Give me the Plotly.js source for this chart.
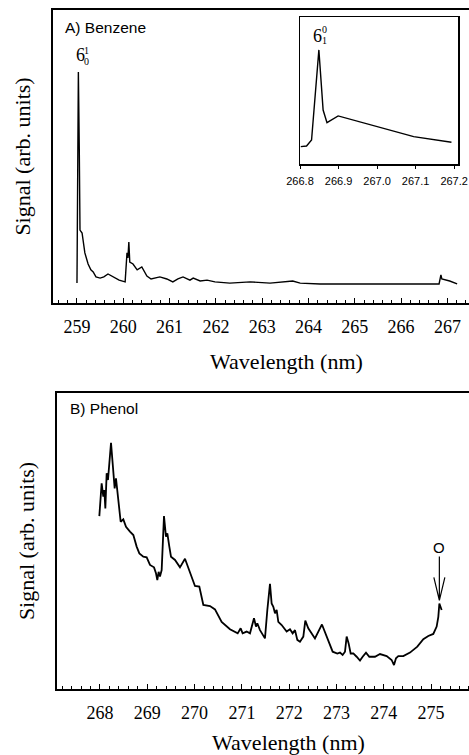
<!DOCTYPE html>
<html><head><meta charset="utf-8">
<script src="https://cdn.plot.ly/plotly-3.0.1.min.js"></script>
<style>html,body{margin:0;padding:0;overflow:hidden;background:#fff;width:469px;height:755px}#chart{width:520px;height:755px}</style>
</head><body><div id="chart"></div><script>
// Panel A: benzene
const benzeneWavelength = [259.00,259.03,259.05,259.065,259.11,259.17,259.24,259.30,259.35,259.41,259.50,259.58,259.67,259.78,259.91,260.04,260.08,260.10,260.12,260.14,260.21,260.30,260.40,260.51,260.60,260.79,260.94,261.07,261.18,261.29,261.44,261.51,261.66,261.81,261.98,262.30,262.74,263.17,263.49,263.66,263.82,264.25,265.11,265.98,266.82,266.86,266.88,267.05,267.21];
const benzeneSignal = [6.8,78.8,52,24.9,23.9,17.1,13.3,11.3,10.6,8.9,8.5,8.9,9.9,8.9,7.8,7.2,17.1,15.4,20.8,14.0,13.3,11.3,12.3,9.2,8.2,8.9,8.2,7.2,8.2,8.9,7.8,8.5,7.5,7.8,7.2,6.8,7.2,6.8,7.2,7.5,6.8,6.5,6.5,6.5,6.5,9.6,8.2,7.5,6.5];
// Inset of panel A
const insetWavelength = [266.802,266.817,266.830,266.849,266.860,266.870,266.899,266.997,267.095,267.193];
const insetSignal = [11.8,12.2,16.3,77.6,36.7,28.1,32.7,25.9,18.6,14.8];
// Panel B: phenol
const phenolWavelength = [267.986,268.035,268.070,268.092,268.113,268.141,268.169,268.197,268.233,268.268,268.310,268.338,268.366,268.409,268.437,268.493,268.550,268.634,268.705,268.775,268.832,268.916,268.987,269.057,269.142,269.184,269.212,269.240,269.268,269.304,269.353,269.395,269.424,269.466,269.501,269.586,269.691,269.797,269.903,270.008,270.100,270.185,270.326,270.431,270.572,270.748,270.911,270.974,271.016,271.101,271.171,271.221,271.256,271.298,271.326,271.383,271.488,271.538,271.594,271.629,271.665,271.700,271.735,271.770,271.841,271.946,272.017,272.073,272.123,272.172,272.228,272.299,272.341,272.404,272.545,272.693,272.792,272.919,273.018,273.074,273.130,273.180,273.215,273.257,273.300,273.356,273.426,273.497,273.553,273.624,273.694,273.814,273.920,274.061,274.166,274.216,274.258,274.307,274.413,274.554,274.709,274.836,274.941,275.047,275.118,275.153,275.175,275.203,275.224];
const phenolSignal = [58.4,69.5,65.0,67.2,61.0,72.9,70.6,77.4,83.2,76.2,67.8,71.2,67.2,61.6,56.5,57.3,54.8,53.2,52.0,48.1,45.8,44.7,44.5,41.9,41.1,39.1,36.8,39.6,38.0,40.2,58.4,51.5,52.6,48.1,44.7,43.6,41.1,44.0,39.1,34.8,34.6,28.4,28.0,26.9,22.7,20.2,18.8,20.5,18.8,19.4,18.8,21.6,23.9,21.1,22.2,19.9,17.1,26.7,35.5,28.9,27.8,25.6,26.7,22.7,21.6,19.4,20.2,18.8,19.9,16.6,16.0,17.7,23.1,20.5,17.1,21.8,17.7,12.6,12.0,12.3,11.5,12.6,17.7,15.4,12.0,12.0,10.9,9.6,10.9,12.3,10.9,10.9,11.8,11.1,9.8,8.1,10.4,11.1,11.1,12.3,14.3,16.8,17.9,18.6,21.1,24.4,28.9,27.3,26.7];
// Tick labels
const benzeneTicks = [259,260,261,262,263,264,265,266,267];
const phenolTicks = [268,269,270,271,272,273,274,275];
const insetTicks = [266.8,266.9,267.0,267.1,267.2];
const panelLabels = ['A) Benzene','B) Phenol'];
const axisTitleX = 'Wavelength (nm)';
const axisTitleY = 'Signal (arb. units)';

const W = 520, H = 755;
const serif = 'Liberation Serif, Times New Roman, serif';
const sans = 'Liberation Sans, Arial, sans-serif';

function peakIndex(arr, from) { let m = from || 0; for (let i = m; i < arr.length; i++) if (arr[i] > arr[m]) m = i; return m; }
const iA = peakIndex(benzeneSignal);
const iIn = peakIndex(insetSignal);
const iO = peakIndex(phenolSignal, phenolSignal.length - 6);

const traces = [
  {x: benzeneWavelength, y: benzeneSignal, xaxis: 'x', yaxis: 'y', mode: 'lines', line: {color: '#000', width: 1.4}, hoverinfo: 'skip'},
  {x: insetWavelength, y: insetSignal, xaxis: 'x3', yaxis: 'y3', mode: 'lines', line: {color: '#000', width: 1.4}, hoverinfo: 'skip'},
  {x: phenolWavelength, y: phenolSignal, xaxis: 'x2', yaxis: 'y2', mode: 'lines', line: {color: '#000', width: 1.8}, hoverinfo: 'skip'}
];

function mainX(domain, range, ticks, anchor, standoff) {
  return {domain: domain, range: range, anchor: anchor, showline: true, linewidth: 2.3, linecolor: '#000', mirror: true,
    ticks: 'inside', ticklen: 5, tickwidth: 1, tickcolor: '#000', tickmode: 'array', tickvals: ticks,
    minor: {tick0: ticks[0], dtick: 0.2, ticks: 'inside', ticklen: 3, tickwidth: 1, tickcolor: '#000'},
    tickfont: {family: serif, size: 18, color: '#000'}, ticklabelstandoff: 6,
    showgrid: false, zeroline: false, automargin: false,
    title: {text: axisTitleX, font: {family: serif, size: 22, color: '#000'}, standoff: standoff}};
}
function mainY(domain, anchor) {
  return {domain: domain, range: [0, 100], anchor: anchor, showline: true, linewidth: 2.3, linecolor: '#000', mirror: true,
    ticks: '', showticklabels: false, showgrid: false, zeroline: false, automargin: false,
    title: {text: axisTitleY, font: {family: serif, size: 22, color: '#000'}, standoff: 14}};
}

const layout = {
  width: W, height: H, margin: {l: 0, r: 0, t: 0, b: 0},
  paper_bgcolor: '#fff', plot_bgcolor: '#fff', showlegend: false,
  xaxis: mainX([53 / W, 1], [258.482, 268.568], benzeneTicks, 'y', 18),
  yaxis: mainY([452 / H, 745 / H], 'x'),
  xaxis2: mainX([57 / W, 1], [267.091, 276.88], phenolTicks, 'y2', 15),
  yaxis2: mainY([66 / H, 362 / H], 'x2'),
  xaxis3: {domain: [300 / W, 458 / W], range: [266.8, 267.21], anchor: 'y3', showline: true, linewidth: 1.5, linecolor: '#000', mirror: true,
    ticks: 'outside', ticklen: 3, tickwidth: 1, tickcolor: '#000', tickmode: 'array', tickvals: insetTicks, tickformat: '.1f',
    tickfont: {family: sans, size: 11, color: '#000'}, ticklabelstandoff: 3, showgrid: false, zeroline: false},
  yaxis3: {domain: [591 / H, 738 / H], range: [0, 100], anchor: 'x3', showline: true, linewidth: 1.5, linecolor: '#000', mirror: true,
    ticks: '', showticklabels: false, showgrid: false, zeroline: false},
  annotations: [
    {text: panelLabels[0], xref: 'paper', yref: 'paper', x: 63 / W, y: 1 - 28 / H, xanchor: 'left', yanchor: 'middle', showarrow: false, font: {family: sans, size: 15.5, color: '#000'}},
    {text: panelLabels[1], xref: 'paper', yref: 'paper', x: 68 / W, y: 1 - 408 / H, xanchor: 'left', yanchor: 'middle', showarrow: false, font: {family: sans, size: 15.5, color: '#000'}},
    // 6_0^1 label on main peak
    {text: '6', xref: 'x', yref: 'y', x: benzeneWavelength[iA], y: benzeneSignal[iA], xshift: 2, yshift: 17, showarrow: false, font: {family: serif, size: 18, color: '#000'}},
    {text: '1', xref: 'x', yref: 'y', x: benzeneWavelength[iA], y: benzeneSignal[iA], xshift: 8.5, yshift: 22, showarrow: false, font: {family: serif, size: 10, color: '#000'}},
    {text: '0', xref: 'x', yref: 'y', x: benzeneWavelength[iA], y: benzeneSignal[iA], xshift: 8.5, yshift: 11, showarrow: false, font: {family: serif, size: 10, color: '#000'}},
    // 6_1^0 label on inset peak
    {text: '6', xref: 'x3', yref: 'y3', x: insetWavelength[iIn], y: insetSignal[iIn], xshift: -1, yshift: 14, showarrow: false, font: {family: serif, size: 18, color: '#000'}},
    {text: '0', xref: 'x3', yref: 'y3', x: insetWavelength[iIn], y: insetSignal[iIn], xshift: 5.5, yshift: 20, showarrow: false, font: {family: serif, size: 10, color: '#000'}},
    {text: '1', xref: 'x3', yref: 'y3', x: insetWavelength[iIn], y: insetSignal[iIn], xshift: 5.5, yshift: 9, showarrow: false, font: {family: serif, size: 10, color: '#000'}},
    // O label above arrow
    {text: 'O', xref: 'x2', yref: 'y2', x: phenolWavelength[iO], y: phenolSignal[iO], xshift: 0, yshift: 56, showarrow: false, font: {family: sans, size: 15, color: '#000'}}
  ],
  shapes: [
    {type: 'path', xref: 'x2', yref: 'y2', xsizemode: 'pixel', ysizemode: 'pixel', xanchor: phenolWavelength[iO], yanchor: phenolSignal[iO],
     path: 'M0,3 L0,47 M-5.5,26 L0,3 L5.5,26', line: {color: '#000', width: 1.2}}
  ]
};

Plotly.newPlot('chart', traces, layout, {displayModeBar: false, staticPlot: true});
</script></body></html>
